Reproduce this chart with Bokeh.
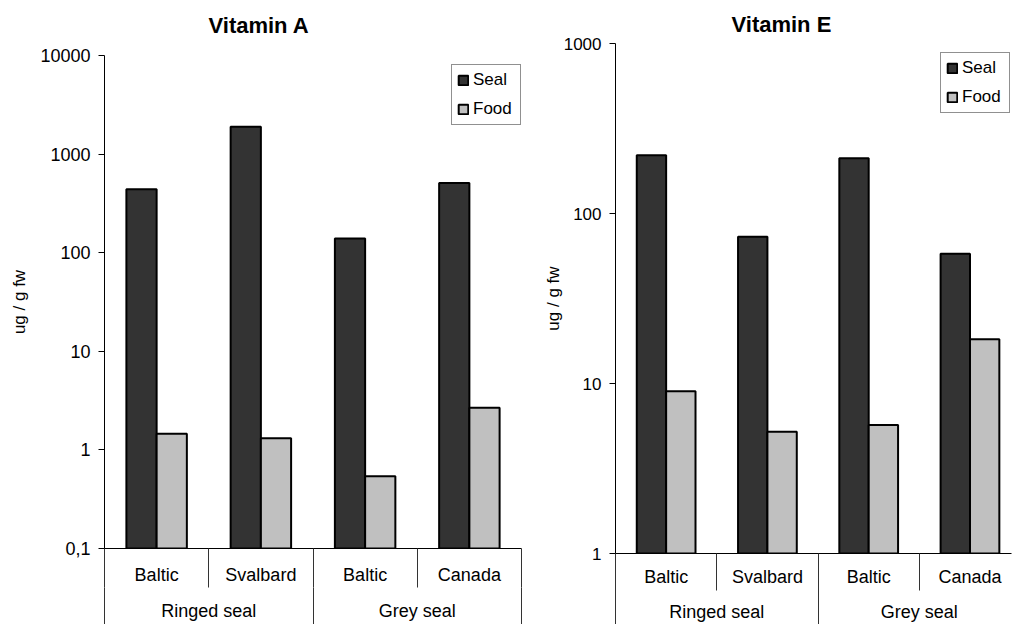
from bokeh.plotting import figure
from bokeh.layouts import row
from bokeh.models import (ColumnDataSource, Range1d, FixedTicker, CustomJSTickFormatter,
                          Legend, LegendItem, Title, LinearAxis)
from bokeh.transform import dodge
from bokeh.embed import file_html
from bokeh.resources import INLINE
import numpy as np

# ---------------- data ----------------
locations = ["Baltic", "Svalbard", "Baltic", "Canada"]
species = ["Ringed seal", "Grey seal"]
series = ["Seal", "Food"]
colors = ["#333333", "#C0C0C0"]

vitA_seal = [440, 1890, 139, 510]
vitA_food = [1.46, 1.31, 0.54, 2.67]
vitE_seal = [220, 73, 211, 58]
vitE_food = [9.0, 5.2, 5.7, 18.2]

vitA_ticks = [0.1, 1, 10, 100, 1000, 10000]
vitE_ticks = [1, 10, 100, 1000]

FONT = "Liberation Sans"


def make_chart(title, seal, food, yticks, width, frame_w, xmax,
               border_left, border_top, border_bottom, sub_tick, title_offset,
               title_standoff, spacer_gap, legend_loc, ylab_standoff, tick_font,
               lab1_standoff, lab2_standoff):
    n = len(locations)
    src = ColumnDataSource(dict(xc=np.arange(n) + 0.5, seal=seal, food=food))
    p = figure(width=width, height=624, output_backend="svg", toolbar_location=None,
               y_axis_type="log", x_range=Range1d(0, xmax),
               y_range=Range1d(yticks[0], yticks[-1]),
               min_border_left=border_left, min_border_top=border_top,
               min_border_bottom=border_bottom,
               min_border_right=width - border_left - frame_w)
    p.frame_align = False
    main_title = Title(text=title, align="left", text_font=FONT, text_font_size="22px",
                       text_font_style="bold", text_color="black", offset=title_offset,
                       standoff=title_standoff)
    if spacer_gap is not None:
        # blank spacer panel between the title and the plot area
        p.add_layout(Title(text=" ", text_font_size="4px", standoff=spacer_gap), "above")
        p.add_layout(main_title, "above")
    else:
        p.title = main_title
    p.outline_line_color = None
    p.xgrid.visible = False
    p.ygrid.visible = False
    p.background_fill_color = "white"
    p.border_fill_color = "white"

    base = yticks[0]
    r1 = p.vbar(x=dodge("xc", -0.145, range=p.x_range), top="seal", bottom=base,
                width=0.29, source=src, fill_color=colors[0], line_color="black",
                line_width=2)
    r2 = p.vbar(x=dodge("xc", 0.145, range=p.x_range), top="food", bottom=base,
                width=0.29, source=src, fill_color=colors[1], line_color="black",
                line_width=2)

    # y axis
    ya = p.yaxis[0]
    ya.ticker = FixedTicker(ticks=yticks, minor_ticks=[])
    ya.formatter = CustomJSTickFormatter(code="return String(tick).replace('.', ',')")
    ya.major_tick_in = 0
    ya.major_tick_out = 6
    ya.minor_tick_out = 0
    ya.minor_tick_in = 0
    ya.axis_line_color = "black"
    ya.major_tick_line_color = "black"
    ya.major_label_text_font = FONT
    ya.major_label_text_font_size = tick_font
    ya.major_label_text_color = "black"
    ya.major_label_standoff = 8
    ya.axis_label = "ug / g fw"
    ya.axis_label_text_font = FONT
    ya.axis_label_text_font_size = "17px"
    ya.axis_label_text_font_style = "normal"
    ya.axis_label_text_color = "black"
    ya.axis_label_standoff = ylab_standoff

    # x axis level 1: locations, with dividers between locations
    xa = p.xaxis[0]
    xa.ticker = FixedTicker(ticks=list(np.arange(n) + 0.5), minor_ticks=list(range(n + 1)))
    xa.formatter = CustomJSTickFormatter(args=dict(labels=locations),
                                         code="return labels[Math.floor(tick)]")
    xa.major_tick_in = 0
    xa.major_tick_out = 0
    xa.minor_tick_in = 0
    xa.minor_tick_out = sub_tick
    xa.axis_line_color = "black"
    xa.minor_tick_line_color = "#333333"
    xa.major_label_text_font = FONT
    xa.major_label_text_font_size = "18px"
    xa.major_label_text_color = "black"
    xa.major_label_standoff = lab1_standoff - sub_tick

    # x axis level 2: species groups, with dividers between groups
    long_tick = 60
    xb = LinearAxis(
        ticker=FixedTicker(ticks=[1, 3], minor_ticks=[0, 2, 4]),
        formatter=CustomJSTickFormatter(args=dict(labels=species),
                                        code="return labels[Math.floor(tick / 2)]"),
        major_tick_in=0, major_tick_out=0, minor_tick_in=0, minor_tick_out=long_tick,
        axis_line_color=None, minor_tick_line_color="#333333",
        major_label_text_font=FONT, major_label_text_font_size="18px",
        major_label_text_color="black", major_label_standoff=lab2_standoff - long_tick)
    p.add_layout(xb, "below")

    legend = Legend(items=[LegendItem(label=series[0], renderers=[r1]),
                           LegendItem(label=series[1], renderers=[r2])],
                    location=legend_loc, orientation="vertical",
                    glyph_width=12, glyph_height=12, label_standoff=4,
                    padding=5, spacing=9, margin=0, label_height=20, label_width=42,
                    label_text_font=FONT, label_text_font_size="17px",
                    label_text_color="black",
                    border_line_color="#222222", border_line_width=1,
                    background_fill_color="white", background_fill_alpha=1)
    p.add_layout(legend, "center")
    return p


p1 = make_chart("Vitamin A", vitA_seal, vitA_food, vitA_ticks,
                width=530, frame_w=417, xmax=4.0,
                border_left=104, border_top=55, border_bottom=76, sub_tick=39,
                title_offset=104, title_standoff=0, spacer_gap=11,
                legend_loc=(347, 423),
                ylab_standoff=8, tick_font="18px", lab1_standoff=16, lab2_standoff=13)
p2 = make_chart("Vitamin E", vitE_seal, vitE_food, vitE_ticks,
                width=482, frame_w=396, xmax=3.91,
                border_left=85, border_top=43, border_bottom=71, sub_tick=37,
                title_offset=116, title_standoff=13, spacer_gap=None,
                legend_loc=(325, 440),
                ylab_standoff=-2, tick_font="17px", lab1_standoff=13, lab2_standoff=12)

layout = row(p1, p2)
open("out.html", "w").write(file_html(layout, INLINE))
